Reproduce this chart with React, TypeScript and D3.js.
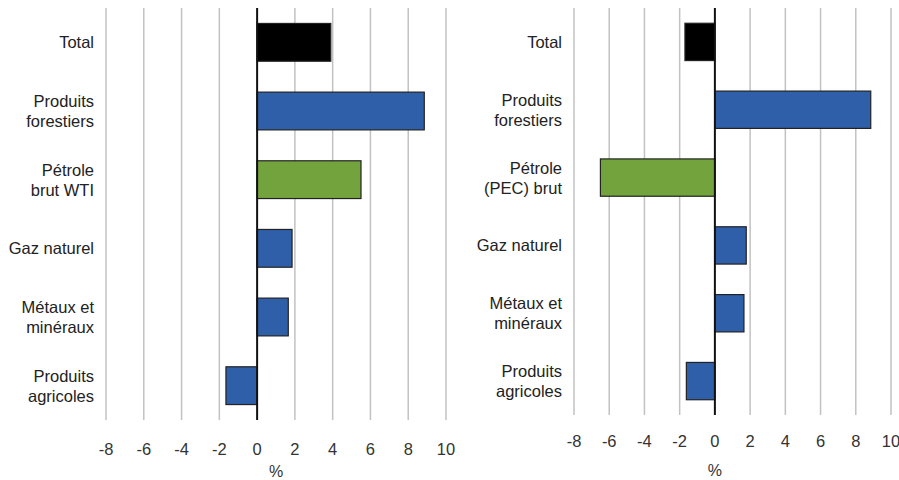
import React, { useEffect, useRef } from "react";
import * as d3 from "d3";

// Catégories (une ligne par élément du sous-tableau)
const leftLabels: string[][] = [
  ["Total"],
  ["Produits", "forestiers"],
  ["Pétrole", "brut WTI"],
  ["Gaz naturel"],
  ["Métaux et", "minéraux"],
  ["Produits", "agricoles"],
];
const rightLabels: string[][] = [
  ["Total"],
  ["Produits", "forestiers"],
  ["Pétrole", "(PEC) brut"],
  ["Gaz naturel"],
  ["Métaux et", "minéraux"],
  ["Produits", "agricoles"],
];

// Valeurs (%)
const leftValues: number[] = [3.9, 8.85, 5.5, 1.85, 1.65, -1.65];
const rightValues: number[] = [-1.7, 8.85, -6.5, 1.78, 1.65, -1.62];

const barColors: string[] = ["#000000", "#2f5fa9", "#73a33d", "#2f5fa9", "#2f5fa9", "#2f5fa9"];

const xTicks: number[] = [-8, -6, -4, -2, 0, 2, 4, 6, 8, 10];
const xDomain: [number, number] = [-8, 10];
const axisTitle = "%";

interface PanelConfig {
  labels: string[][];
  values: number[];
  xRange: [number, number];
  yRange: [number, number];
  labelX: number;
  tickY: number;
  titleY: number;
  titleAt: number;
}

const FONT = "'Liberation Sans', Arial, Helvetica, sans-serif";

function drawPanel(root: d3.Selection<SVGGElement, unknown, null, undefined>, cfg: PanelConfig) {
  const keys = cfg.labels.map((l) => l.join(" "));

  const x = d3.scaleLinear().domain(xDomain).range(cfg.xRange);
  const y = d3
    .scaleBand<string>()
    .domain(keys)
    .range(cfg.yRange)
    .paddingInner(0.45)
    .paddingOuter(0.225);

  const [top, bottom] = cfg.yRange;

  // grille verticale
  root
    .append("g")
    .selectAll("line")
    .data(xTicks.filter((t) => t !== 0))
    .enter()
    .append("line")
    .attr("x1", (d) => x(d))
    .attr("x2", (d) => x(d))
    .attr("y1", top)
    .attr("y2", bottom)
    .style("stroke", "#c2c2c2")
    .style("stroke-width", 1.5);

  // barres
  root
    .append("g")
    .selectAll("rect")
    .data(cfg.values)
    .enter()
    .append("rect")
    .attr("x", (d) => x(Math.min(0, d)))
    .attr("y", (_, i) => y(keys[i])!)
    .attr("width", (d) => Math.abs(x(d) - x(0)))
    .attr("height", y.bandwidth())
    .attr("fill", (_, i) => barColors[i])
    .style("stroke", "#222")
    .style("stroke-width", 1.2);

  // ligne du zéro
  root
    .append("line")
    .attr("x1", x(0))
    .attr("x2", x(0))
    .attr("y1", top)
    .attr("y2", bottom)
    .style("stroke", "#111")
    .style("stroke-width", 2);

  // étiquettes des catégories
  const labelG = root
    .append("g")
    .selectAll("text")
    .data(cfg.labels)
    .enter()
    .append("text")
    .attr("text-anchor", "end")
    .attr("x", cfg.labelX)
    .attr("y", (_, i) => y(keys[i])! + y.bandwidth() / 2)
    .style("font-family", FONT)
    .style("font-size", "16.5px")
    .style("fill", "#222");

  labelG.each(function (lines) {
    const t = d3.select(this);
    const cy = +t.attr("y");
    lines.forEach((line, j) => {
      t.append("tspan")
        .attr("x", cfg.labelX)
        .attr("y", cy + 6 + (j - (lines.length - 1) / 2) * 20)
        .text(line);
    });
  });

  // étiquettes de l'axe
  root
    .append("g")
    .selectAll("text")
    .data(xTicks)
    .enter()
    .append("text")
    .attr("x", (d) => x(d))
    .attr("y", cfg.tickY)
    .attr("text-anchor", "middle")
    .style("font-family", FONT)
    .style("font-size", "16.5px")
    .style("fill", "#333")
    .text((d) => String(d));

  root
    .append("text")
    .attr("x", x(cfg.titleAt))
    .attr("y", cfg.titleY)
    .attr("text-anchor", "middle")
    .style("font-family", FONT)
    .style("font-size", "16px")
    .style("fill", "#333")
    .text(axisTitle);
}

export default function App() {
  const svgRef = useRef<SVGSVGElement | null>(null);

  useEffect(() => {
    if (!svgRef.current) return;
    const svg = d3.select(svgRef.current);
    svg.selectAll("*").remove();

    drawPanel(svg.append("g"), {
      labels: leftLabels,
      values: leftValues,
      xRange: [106, 446],
      yRange: [8, 420],
      labelX: 94,
      tickY: 455,
      titleY: 477,
      titleAt: 1,
    });

    drawPanel(svg.append("g"), {
      labels: rightLabels,
      values: rightValues,
      xRange: [574, 891],
      yRange: [8, 415],
      labelX: 562,
      tickY: 447,
      titleY: 476,
      titleAt: 0,
    });
  }, []);

  return (
    <svg
      ref={svgRef}
      width={899}
      height={480}
      style={{ position: "absolute", left: 0, top: 0, background: "#fff", display: "block" }}
    />
  );
}
